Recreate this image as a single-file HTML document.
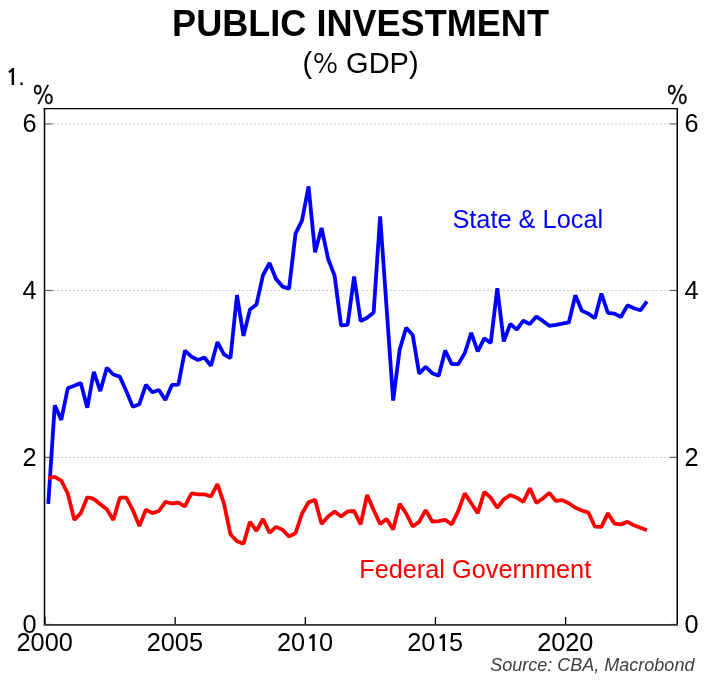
<!DOCTYPE html>
<html><head><meta charset="utf-8"><title>Public Investment</title>
<style>
html,body{margin:0;padding:0;background:#fff;}
body{width:718px;height:685px;overflow:hidden;}
svg{display:block;}
text{font-family:"Liberation Sans",Arial,sans-serif;fill:#000;}
.ax{font-size:25.3px;}
.pc{font-family:"NanumGothic",sans-serif;}
.one{font-family:"NanumGothic",sans-serif;font-size:23px;font-weight:bold;}
</style></head><body>
<svg width="718" height="685" viewBox="0 0 718 685">
<rect width="718" height="685" fill="#fff"/>
<text x="172.1" y="35.95" style="font-size:36.1px;font-weight:bold">PUBLIC INVESTMENT</text>
<text x="302.6" y="72.86" style="font-size:29px">(<tspan class="pc" dx="-1.36" style="font-size:26.6px">%</tspan><tspan dx="-1.86"> GDP)</tspan></text>
<text x="5.43" y="85.0" style="font-size:23.7px"><tspan style="font-family:'NanumGothic',sans-serif;font-size:22.5px;font-weight:bold">1</tspan><tspan dx="-0.7">.</tspan></text>
<text x="29.95" y="104.1" class="pc" style="font-size:24.5px;stroke:#000;stroke-width:0.4" transform="translate(43.45,0) scale(0.9,1) translate(-43.45,0)">%</text>
<text x="663.9" y="104.3" class="pc" style="font-size:24.5px;stroke:#000;stroke-width:0.4" transform="translate(677.4,0) scale(0.9,1) translate(-677.4,0)">%</text>
<line x1="52.77" y1="457.40" x2="669.1" y2="457.40" stroke="#c8c8c8" stroke-width="1" stroke-dasharray="2.01,2.0087"/>
<line x1="52.77" y1="290.50" x2="669.1" y2="290.50" stroke="#c8c8c8" stroke-width="1" stroke-dasharray="2.01,2.0087"/>
<line x1="52.77" y1="123.90" x2="669.1" y2="123.90" stroke="#c8c8c8" stroke-width="1" stroke-dasharray="2.01,2.0087"/>
<line x1="44.55" y1="624.50" x2="52.55" y2="624.50" stroke="#666" stroke-width="1.2"/>
<line x1="669.6" y1="624.50" x2="677.1" y2="624.50" stroke="#666" stroke-width="1.2"/>
<line x1="44.55" y1="457.40" x2="52.55" y2="457.40" stroke="#666" stroke-width="1.2"/>
<line x1="669.6" y1="457.40" x2="677.1" y2="457.40" stroke="#666" stroke-width="1.2"/>
<line x1="44.55" y1="290.50" x2="52.55" y2="290.50" stroke="#666" stroke-width="1.2"/>
<line x1="669.6" y1="290.50" x2="677.1" y2="290.50" stroke="#666" stroke-width="1.2"/>
<line x1="44.55" y1="123.90" x2="52.55" y2="123.90" stroke="#666" stroke-width="1.2"/>
<line x1="669.6" y1="123.90" x2="677.1" y2="123.90" stroke="#666" stroke-width="1.2"/>
<line x1="45.00" y1="624.5" x2="45.00" y2="617.0" stroke="#000" stroke-width="1.3"/>
<line x1="175.15" y1="624.5" x2="175.15" y2="617.0" stroke="#000" stroke-width="1.3"/>
<line x1="305.30" y1="624.5" x2="305.30" y2="617.0" stroke="#000" stroke-width="1.3"/>
<line x1="435.45" y1="624.5" x2="435.45" y2="617.0" stroke="#000" stroke-width="1.3"/>
<line x1="565.60" y1="624.5" x2="565.60" y2="617.0" stroke="#000" stroke-width="1.3"/>

<polyline points="48.25,503.83 54.76,405.26 61.27,419.88 67.78,388.34 74.28,385.83 80.79,382.93 87.30,407.76 93.81,371.85 100.31,391.11 106.82,367.71 113.33,374.45 119.84,376.65 126.34,391.26 132.85,406.86 139.36,404.19 145.87,384.83 152.37,392.28 158.88,390.01 165.39,399.95 171.90,384.97 178.40,384.66 184.91,350.52 191.42,356.63 197.93,359.96 204.43,357.46 210.94,365.84 217.45,342.07 223.96,354.29 230.46,358.03 236.97,295.14 243.48,335.90 249.99,309.43 256.49,304.42 263.00,275.21 269.51,262.99 276.02,279.02 282.52,286.59 289.03,288.66 295.54,233.62 302.05,220.37 308.55,186.35 315.06,252.25 321.57,227.95 328.08,258.72 334.58,275.68 341.09,325.38 347.60,324.91 354.11,276.41 360.61,320.98 367.12,317.74 373.63,312.48 380.14,216.36 386.64,308.46 393.15,400.55 399.66,349.62 406.17,327.79 412.67,334.93 419.18,373.65 425.69,366.87 432.20,373.15 438.70,375.75 445.21,350.45 451.72,364.17 458.23,364.00 464.73,353.29 471.24,332.83 477.75,351.35 484.26,338.40 490.76,343.01 497.27,288.11 503.78,341.44 510.29,323.91 516.79,329.59 523.30,320.74 529.81,324.08 536.32,316.57 542.82,320.91 549.33,325.82 555.84,324.83 562.35,323.66 568.85,322.48 575.36,295.24 581.87,310.79 588.38,313.63 594.88,318.32 601.39,293.57 607.90,312.80 614.41,313.67 620.91,317.04 627.42,305.32 633.93,308.22 640.44,310.29 646.94,301.48" fill="none" stroke="#0000ff" stroke-width="3.8" stroke-linejoin="bevel"/>
<polyline points="48.25,478.03 54.76,476.79 61.27,480.53 67.78,493.48 74.28,519.82 80.79,513.11 87.30,497.26 93.81,498.92 100.31,504.33 106.82,509.34 113.33,520.02 119.84,497.66 126.34,497.66 132.85,510.17 139.36,526.03 145.87,509.77 152.37,513.08 158.88,511.01 165.39,501.83 171.90,503.50 178.40,502.66 184.91,506.40 191.42,493.48 197.93,494.32 204.43,494.32 210.94,496.49 217.45,484.04 223.96,503.50 230.46,534.37 236.97,541.22 243.48,543.82 249.99,521.79 256.49,530.87 263.00,518.99 269.51,532.79 276.02,526.86 282.52,529.77 289.03,536.51 295.54,533.17 302.05,513.51 308.55,502.23 315.06,499.76 321.57,523.99 328.08,516.48 334.58,511.44 341.09,516.42 347.60,511.44 354.11,511.01 360.61,524.44 367.12,494.99 373.63,510.01 380.14,523.99 386.64,518.95 393.15,529.45 399.66,503.86 406.17,513.51 412.67,526.50 419.18,521.92 425.69,510.09 432.20,521.49 438.70,521.09 445.21,519.75 451.72,524.44 458.23,511.07 464.73,493.42 471.24,503.20 477.75,513.14 484.26,492.05 490.76,497.66 497.27,507.75 503.78,499.32 510.29,495.09 516.79,497.66 523.30,501.90 529.81,488.31 536.32,502.83 542.82,498.49 549.33,492.88 555.84,500.99 562.35,500.16 568.85,503.26 575.36,507.74 581.87,510.44 588.38,512.64 594.88,526.53 601.39,526.86 607.90,513.14 614.41,523.53 620.91,524.36 627.42,521.86 633.93,525.19 640.44,527.70 646.94,530.20" fill="none" stroke="#ff0000" stroke-width="3.8" stroke-linejoin="bevel"/>
<line x1="43.75" y1="108.65" x2="678" y2="108.65" stroke="#000" stroke-width="1.35"/>
<line x1="44.5" y1="108.05000000000001" x2="44.5" y2="625.1" stroke="#000" stroke-width="1.5"/>
<line x1="677.25" y1="108.05000000000001" x2="677.25" y2="625.1" stroke="#000" stroke-width="1.5"/>
<line x1="43.75" y1="624.9" x2="678" y2="624.9" stroke="#333" stroke-width="1.8"/>
<text x="36.5" y="633.00" text-anchor="end" class="ax">0</text>
<text x="684.4" y="633.00" class="ax">0</text>
<text x="36.5" y="465.50" text-anchor="end" class="ax">2</text>
<text x="684.4" y="465.50" class="ax">2</text>
<text x="36.5" y="298.60" text-anchor="end" class="ax">4</text>
<text x="684.4" y="298.60" class="ax">4</text>
<text x="36.5" y="131.70" text-anchor="end" class="ax">6</text>
<text x="684.4" y="131.70" class="ax">6</text>
<text x="44.70" y="651.3" text-anchor="middle" class="ax">2000</text>
<text x="174.85" y="651.3" text-anchor="middle" class="ax">2005</text>
<text x="305.00" y="651.3" text-anchor="middle" class="ax">20<tspan class="one" dx="0.9">1</tspan><tspan dx="-1.07">0</tspan></text>
<text x="435.15" y="651.3" text-anchor="middle" class="ax">20<tspan class="one" dx="0.9">1</tspan><tspan dx="-1.07">5</tspan></text>
<text x="565.30" y="651.3" text-anchor="middle" class="ax">2020</text>

<text x="452.4" y="227.6" style="font-size:25.35px;fill:#0000ff">State &amp; Local</text>
<text x="359.2" y="577.5" style="font-size:25.3px;fill:#ff0000">Federal Government</text>
<text x="490.3" y="671.3" style="font-size:18px;font-style:italic;fill:#404040">Source: CBA, Macrobond</text>
</svg>
</body></html>
